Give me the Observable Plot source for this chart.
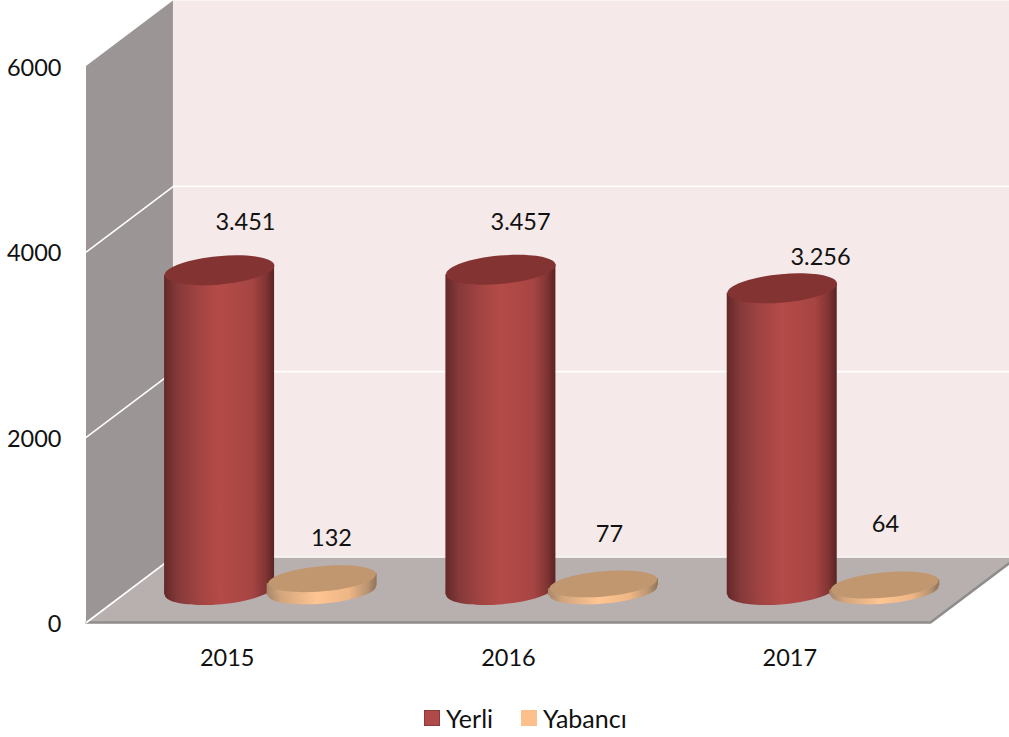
<!DOCTYPE html>
<html><head><meta charset="utf-8">
<script src="https://cdn.jsdelivr.net/npm/d3@7"></script>
<script src="https://cdn.jsdelivr.net/npm/@observablehq/plot@0.6"></script>
<style>
html,body{margin:0;padding:0;background:#fff;overflow:hidden}
svg{display:block}
#legend{height:47px;display:flex;align-items:center;justify-content:flex-start;padding:8px 0 0 424px;box-sizing:border-box;font:25px Lato,sans-serif;color:#111}
#legend i{display:inline-block;width:16px;height:16px;margin-right:6px;box-sizing:border-box}
#legend span{display:flex;align-items:center;margin-right:28px}
#legend span:last-child{margin-right:0}
</style></head><body><div id="chart"></div>
<div id="legend"><span><i style="background:#b04a48;border:1.5px solid #8a3a39"></i>Yerli</span><span><i style="background:#fdc08d"></i>Yabancı</span></div>
<script>
const years = ["2015", "2016", "2017"];
const yerli = [3451, 3457, 3256];
const yabanci = [132, 77, 64];
const yerliLabels = ["3.451", "3.457", "3.256"];
const yabanciLabels = ["132", "77", "64"];
const yTicks = [0, 2000, 4000, 6000];
const gridValues = [0, 2000, 4000];

// depth of the 3D box in data units
const depthX = 0.309, depthY = 707;
const halfBar = 0.1955, tiltY = 54;
const midX = depthX / 2, yerliBase = 350, yabanciBase = 340;
const yerliX = years.map((_, i) => i + 0.3185 + midX);
const yabanciX = years.map((_, i) => i + 0.683 + midX);
const yerliLift = [875, 870, 694], yerliLabelX = [0.565, 1.543, 2.609];
const yabanciLift = [785, 884, 1005], yabanciLabelX = [0.871, 1.859, 2.84];

function ellipseSymbol(ratio, tilt) {
  return {draw(ctx, size) {
    const a = Math.sqrt(size / Math.PI), b = a * ratio, k = 0.5523;
    const c = Math.cos(tilt), s = Math.sin(tilt);
    const P = (u, v) => [u * a * c + v * b * s, -u * a * s + v * b * c];
    ctx.moveTo(...P(1, 0));
    ctx.bezierCurveTo(...P(1, k), ...P(k, 1), ...P(0, 1));
    ctx.bezierCurveTo(...P(-k, 1), ...P(-1, k), ...P(-1, 0));
    ctx.bezierCurveTo(...P(-1, -k), ...P(-k, -1), ...P(0, -1));
    ctx.bezierCurveTo(...P(k, -1), ...P(1, -k), ...P(1, 0));
    ctx.closePath();
  }};
}
const redDisc = ellipseSymbol(0.258, 0.09);
const tanDisc = ellipseSymbol(0.233, 0.09);

function gradients() {
  const defs = d3.create("svg:defs");
  const add = (id, stops) => {
    const g = defs.append("linearGradient").attr("id", id).attr("x1", 0).attr("x2", 1).attr("y1", 0).attr("y2", 0);
    stops.forEach(([o, c]) => g.append("stop").attr("offset", o).attr("stop-color", c));
  };
  add("redSide", [[0, "#642827"], [0.12, "#85393a"], [0.3, "#a04342"], [0.5, "#b44b48"], [0.8, "#a64543"], [0.92, "#823534"], [1, "#5a2322"]]);
  add("tanSide", [[0, "#a9866a"], [0.12, "#d2a57d"], [0.45, "#ffc592"], [0.75, "#eeb685"], [0.92, "#b89472"], [1, "#917359"]]);
  return defs.node();
}

function sideBand(xs, values, base) {
  return xs.flatMap((x, i) => [
    {k: i, x: x - halfBar, lo: base - tiltY, hi: base - tiltY + values[i]},
    {k: i, x: x + halfBar, lo: base + tiltY, hi: base + tiltY + values[i]}
  ]);
}
function topFace(xs, values, base) { return xs.map((x, i) => ({x, y: base + values[i]})); }
function baseFace(xs, base) { return xs.map(x => ({x, y: base})); }

const fontStyle = {fontFamily: "Lato, sans-serif", fontSize: 23.5, fill: "#111"};

const plot = Plot.plot({
  width: 1009, height: 690,
  marginLeft: 86, marginRight: 79, marginTop: 66, marginBottom: 68,
  style: {background: "#fff", fontFamily: "Lato, sans-serif"},
  x: {domain: [0, 3]},
  y: {domain: [0, 6000]},
  marks: [
    gradients,
    // back wall
    Plot.rect([0], {x1: depthX, x2: 3 + depthX, y1: depthY, y2: 6000 + depthY, fill: "#f5e9e9"}),
    // side wall
    Plot.areaY([{x: 0, a: 0, b: 6000}, {x: depthX, a: depthY, b: 6000 + depthY}],
      {x: "x", y1: "a", y2: "b", fill: "#9b9595"}),
    // floor
    Plot.areaX([{y: 0, a: 0, b: 3}, {y: depthY, a: depthX, b: 3 + depthX}],
      {y: "y", x1: "a", x2: "b", fill: "#b8afaf"}),
    Plot.line([[0, 0], [3, 0], [3 + depthX, depthY]], {x: "0", y: "1", stroke: "#8f8c8c", strokeWidth: 2.5}),
    // gridlines
    Plot.ruleY(gridValues, {y: d => d + depthY, x1: depthX, x2: 3 + depthX, stroke: "#fff", strokeWidth: 1.6}),
    Plot.line(gridValues.flatMap(v => [{v, x: 0, y: v}, {v, x: depthX, y: v + depthY}]),
      {x: "x", y: "y", z: "v", stroke: "#fff", strokeWidth: 1.6}),
    // Yerli cylinders
    Plot.dot(baseFace(yerliX, yerliBase), {x: "x", y: "y", r: 55, symbol: redDisc, fill: "url(#redSide)"}),
    Plot.areaY(sideBand(yerliX, yerli, yerliBase), {x: "x", y1: "lo", y2: "hi", z: "k", fill: "url(#redSide)"}),
    Plot.dot(topFace(yerliX, yerli, yerliBase), {x: "x", y: "y", r: 55, symbol: redDisc, fill: "#843333"}),
    // Yabancı cylinders
    Plot.dot(baseFace(yabanciX, yabanciBase), {x: "x", y: "y", r: 54, symbol: tanDisc, fill: "url(#tanSide)"}),
    Plot.areaY(sideBand(yabanciX, yabanci, yabanciBase), {x: "x", y1: "lo", y2: "hi", z: "k", fill: "url(#tanSide)"}),
    Plot.dot(topFace(yabanciX, yabanci, yabanciBase), {x: "x", y: "y", r: 54, symbol: tanDisc, fill: "#c1976f"}),
    // data labels
    Plot.text(yerliLabels, {x: (d, i) => yerliLabelX[i], y: (d, i) => yerli[i] + yerliLift[i], text: d => d, dy: 1, ...fontStyle}),
    Plot.text(yabanciLabels, {x: (d, i) => yabanciLabelX[i], y: (d, i) => yabanci[i] + yabanciLift[i], text: d => d, dy: 1, ...fontStyle}),
    // axes
    Plot.axisY({ticks: yTicks, tickSize: 0, tickPadding: 25, dy: 2, label: null, tickFormat: d => String(d), ...fontStyle}),
    Plot.axisX({ticks: years.map((_, i) => i + 0.5), tickSize: 0, tickPadding: 27, label: null,
      tickFormat: d => years[d - 0.5], ...fontStyle})
  ]
});
document.getElementById("chart").append(plot);
</script></body></html>
